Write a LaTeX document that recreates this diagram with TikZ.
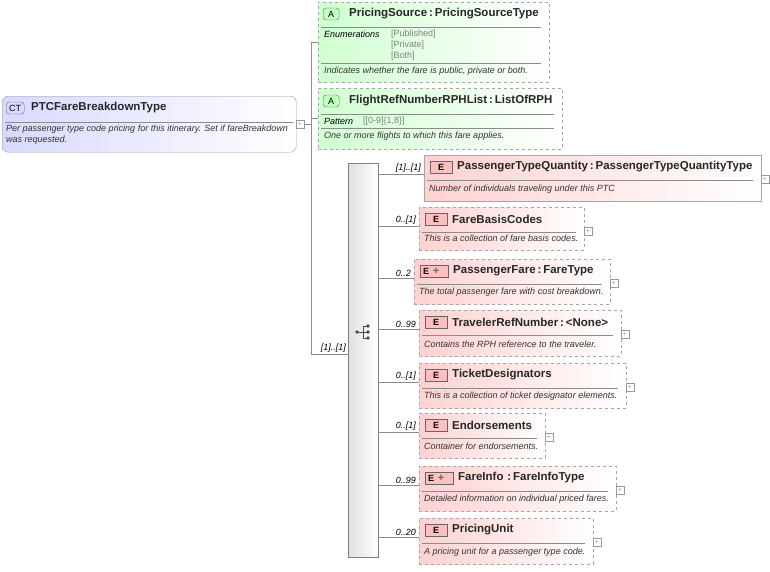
\documentclass[tikz,border=0pt]{standalone}
\usepackage{fontspec}
\setmainfont{Liberation Sans}
\usetikzlibrary{calc}
\begin{document}
\begin{tikzpicture}[x=1pt,y=-1pt,
 ebox/.style={draw=black!35,left color=red!18,right color=white,inner sep=0,anchor=north west},
 abox/.style={draw=black!35,dashed,left color=green!18,right color=white,inner sep=0,anchor=north west},
 tag/.style={draw=black!60,fill=red!25,font=\fontsize{9}{9}\selectfont\bfseries,inner sep=1.5pt,minimum width=22pt,minimum height=12pt,anchor=west},
 atag/.style={draw=black!60,fill=green!25,rounded corners=3pt,font=\fontsize{9}{9}\selectfont,inner sep=1.5pt,minimum width=16pt,minimum height=12pt,anchor=west},
 ttl/.style={font=\fontsize{11.5}{12}\selectfont\bfseries,anchor=west,inner sep=0,text=black!85},
 dsc/.style={font=\fontsize{9}{9}\selectfont\itshape,anchor=west,inner sep=0,text=black!80},
 val/.style={font=\fontsize{9}{9}\selectfont,anchor=west,inner sep=0,text=black!50},
 card/.style={font=\fontsize{9}{9}\selectfont\itshape,anchor=south east,inner sep=1pt},
 pl/.style={draw=black!40,fill=white,minimum size=8pt,inner sep=0,font=\fontsize{7}{7}\selectfont,text=black!40},
 ln/.style={draw=black!45}]
\useasboundingbox[fill=white] (0,0) rectangle (770,571);
% CT box
\node[draw=black!40,rounded corners=6pt,left color=blue!15,right color=white,inner sep=0,minimum width=294pt,minimum height=56pt,anchor=north west] (ct) at (2,96) {};
\node[draw=black!60,fill=blue!15,rounded corners=3pt,font=\fontsize{9}{9}\selectfont,inner sep=1.5pt,minimum width=18pt,minimum height=12pt,anchor=west] (cttag) at (6,108) {CT};
\node[ttl] (ctt) at (31,108) {PTCFareBreakdownType};
\draw[ln] (5,122) -- (293,122);
\node[dsc] (ctd1) at (6,129) {Per passenger type code pricing for this itinerary. Set if fareBreakdown};
\node[dsc] (ctd2) at (6,140) {was requested.};
\node[pl] (ctp) at (300,124) {+};
% attributes
\node[abox,minimum width=231pt,minimum height=80pt] (a1) at (318,2) {};
\node[atag] (a1t) at (323,14) {A};
\node[ttl] (a1n) at (349,14) {PricingSource\,:\,PricingSourceType};
\draw[ln] (321,27) -- (541,27);
\node[dsc,text=black] (a1e) at (324,34) {Enumerations};
\node[val] (a1v1) at (391,34) {[Published]};
\node[val] (a1v2) at (391,45) {[Private]};
\node[val] (a1v3) at (391,56) {[Both]};
\draw[ln] (321,63) -- (541,63);
\node[dsc] (a1d) at (324,71) {Indicates whether the fare is public, private or both.};
\node[abox,minimum width=244pt,minimum height=61pt] (a2) at (318,88) {};
\node[atag] (a2t) at (323,101) {A};
\node[ttl] (a2n) at (349,101) {FlightRefNumberRPHList\,:\,ListOfRPH};
\draw[ln] (321,114) -- (554,114);
\node[dsc,text=black] (a2e) at (324,121) {Pattern};
\node[val] (a2v) at (363,121) {[[0-9]\{1,8\}]};
\draw[ln] (321,128) -- (554,128);
\node[dsc] (a2d) at (324,136) {One or more flights to which this fare applies.};
% sequence
\node[draw=black!50,left color=black!12,right color=white,minimum width=30pt,minimum height=394pt,inner sep=0,anchor=north west] (seq) at (348,163) {};
\coordinate (jn) at (311,124);
\draw[ln] (ctp.east) -- (jn);
\draw[ln] (311,42) -- (311,354);
\draw[ln] (311,42) -- (a1.west |- 0,42);
\draw[ln] (311,118) -- (a2.west |- 0,118);
\draw[ln] (311,354) -- (seq.west |- 0,354);
\node[card] (sc) at (347,354) {[1]..[1]};
% sequence symbol
\begin{scope}[black!70]
\fill (357,332) circle (1.8);
\draw (357,332) -- (363,332);
\draw (363,326) -- (363,338);
\draw (363,326) -- (368,326) (363,332) -- (368,332) (363,338) -- (368,338);
\fill (368,326) circle (1.8) (368,332) circle (1.8) (368,338) circle (1.8);
\end{scope}
% elements
\def\toff{33}
\newcommand\elemx[9]{%
 \node[ebox,#9,minimum width={#4-#2},minimum height={#5-#3}] (#1) at (#2,#3) {};
 \node[tag] (#1t) at ({#2+6},{#3+12}) {E};
 \node[ttl] (#1n) at ({#2+\toff},{#3+12}) {#6};
 \draw[ln] ({#2+3},{#3+25}) -- ({#4-8},{#3+25});
 \node[dsc] (#1d) at ({#2+5},{#5-12}) {#7};
 \coordinate (#1c) at (#2,{#3+19});
 \draw[ln] (seq.east |- #1c) -- (#1c);
 \node[card] (#1k) at ({#2-2},{#3+19}) {#8};
 \node[pl] (#1p) at ({#4+4},{#3+24}) {+};
}
\elemx{e1}{424}{155}{761}{201}{PassengerTypeQuantity\,:\,PassengerTypeQuantityType}{Number of individuals traveling under this PTC}{[1]..[1]}{solid}
\elemx{e2}{419}{207}{584}{250}{FareBasisCodes}{This is a collection of fare basis codes.}{0..[1]}{dashed}
\def\toff{39}
\tikzset{tag/.append style={minimum width=28pt,text width=22pt,align=left}}
\elemx{e3}{414}{259}{610}{304}{PassengerFare\,:\,FareType}{The total passenger fare with cost breakdown.}{0..2}{dashed}
\def\toff{33}
\tikzset{tag/.append style={minimum width=22pt,text width=,align=center}}
\elemx{e4}{419}{310}{621}{356}{TravelerRefNumber\,:\,<None>}{Contains the RPH reference to the traveler.}{0..99}{dashed}
\elemx{e5}{419}{363}{626}{408}{TicketDesignators}{This is a collection of ticket designator elements.}{0..[1]}{dashed}
\elemx{e6}{419}{413}{545}{458}{Endorsements}{Container for endorsements.}{0..[1]}{dashed}
\def\toff{39}
\tikzset{tag/.append style={minimum width=28pt,text width=22pt,align=left}}
\elemx{e7}{419}{466}{616}{511}{FareInfo\,\,:\,FareInfoType}{Detailed information on individual priced fares.}{0..99}{dashed}
\def\toff{33}
\tikzset{tag/.append style={minimum width=22pt,text width=,align=center}}
\elemx{e8}{419}{518}{593}{564}{PricingUnit}{A pricing unit for a passenger type code.}{0..20}{dashed}
% E+ markers
\node[font=\fontsize{11}{11}\selectfont\bfseries,text=black!60,inner sep=0] (e3x) at (436,271) {+};
\node[font=\fontsize{11}{11}\selectfont\bfseries,text=black!60,inner sep=0] (e7x) at (441,478) {+};
\end{tikzpicture}
\end{document}
